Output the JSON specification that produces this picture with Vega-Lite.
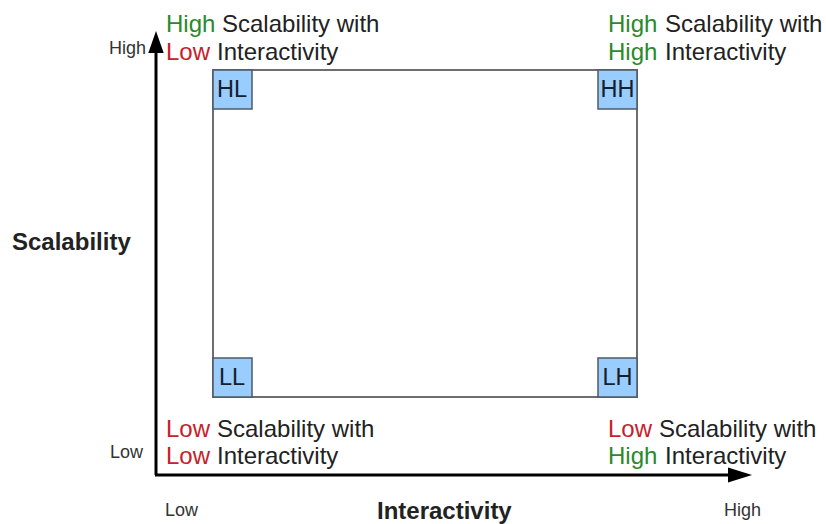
{
  "$schema": "https://vega.github.io/schema/vega-lite/v6.json",
  "width": 826,
  "height": 524,
  "autosize": {"type": "fit", "contains": "padding"},
  "padding": 0,
  "background": "white",
  "config": {"view": {"stroke": null}, "font": "Liberation Sans"},
  "datasets": {
    "frame": [{"x": 213, "x2": 637, "y": 70, "y2": 397}],
    "boxes": [
      {"label": "HL", "x": 213, "x2": 252, "y": 70, "y2": 109, "cx": 232, "cy": 89.5},
      {"label": "HH", "x": 598, "x2": 637, "y": 70, "y2": 109, "cx": 617.5, "cy": 89.5},
      {"label": "LL", "x": 213, "x2": 252, "y": 358, "y2": 397, "cx": 232, "cy": 377.5},
      {"label": "LH", "x": 598, "x2": 637, "y": 358, "y2": 397, "cx": 617.5, "cy": 377.5}
    ],
    "axes": [
      {"axis": "Scalability", "x": 156, "y": 475, "x2": 156, "y2": 48},
      {"axis": "Interactivity", "x": 155, "y": 475, "x2": 732, "y2": 475}
    ],
    "upHead": [{"x": 156, "y": 42}],
    "rightHead": [{"x": 740, "y": 475}],
    "words": [
      {"text": "High", "tone": "High", "x": 166, "y": 32},
      {"text": "Scalability with", "tone": "plain", "x": 222, "y": 32},
      {"text": "Low", "tone": "Low", "x": 166, "y": 60},
      {"text": "Interactivity", "tone": "plain", "x": 217, "y": 60},
      {"text": "High", "tone": "High", "x": 608, "y": 32},
      {"text": "Scalability with", "tone": "plain", "x": 665, "y": 32},
      {"text": "High", "tone": "High", "x": 608, "y": 60},
      {"text": "Interactivity", "tone": "plain", "x": 665, "y": 60},
      {"text": "Low", "tone": "Low", "x": 166, "y": 437},
      {"text": "Scalability with", "tone": "plain", "x": 217, "y": 437},
      {"text": "Low", "tone": "Low", "x": 166, "y": 464},
      {"text": "Interactivity", "tone": "plain", "x": 217, "y": 464},
      {"text": "Low", "tone": "Low", "x": 608, "y": 437},
      {"text": "Scalability with", "tone": "plain", "x": 659, "y": 437},
      {"text": "High", "tone": "High", "x": 608, "y": 464},
      {"text": "Interactivity", "tone": "plain", "x": 665, "y": 464}
    ],
    "endsRight": [
      {"text": "High", "x": 146, "y": 54},
      {"text": "Low", "x": 143, "y": 458}
    ],
    "endsLeft": [
      {"text": "Low", "x": 165, "y": 516},
      {"text": "High", "x": 724, "y": 516}
    ],
    "titles": [
      {"text": "Scalability", "x": 12, "y": 250},
      {"text": "Interactivity", "x": 377, "y": 519}
    ]
  },
  "layer": [
    {
      "data": {"name": "frame"},
      "mark": {"type": "rect", "fill": "white", "stroke": "#6e6e6e", "strokeWidth": 2},
      "encoding": {
        "x": {"field": "x", "type": "quantitative", "scale": {"domain": [0, 826], "nice": false, "zero": false}, "axis": null},
        "x2": {"field": "x2"},
        "y": {"field": "y", "type": "quantitative", "scale": {"domain": [0, 524], "nice": false, "zero": false, "reverse": true}, "axis": null},
        "y2": {"field": "y2"}
      }
    },
    {
      "data": {"name": "boxes"},
      "mark": {"type": "rect", "fill": "#99ccff", "stroke": "#505a64", "strokeWidth": 1.5},
      "encoding": {
        "x": {"field": "x", "type": "quantitative", "scale": {"domain": [0, 826], "nice": false, "zero": false}, "axis": null},
        "x2": {"field": "x2"},
        "y": {"field": "y", "type": "quantitative", "scale": {"domain": [0, 524], "nice": false, "zero": false, "reverse": true}, "axis": null},
        "y2": {"field": "y2"}
      }
    },
    {
      "data": {"name": "boxes"},
      "mark": {"type": "text", "fontSize": 23.5, "color": "#15202b", "align": "center", "baseline": "middle"},
      "encoding": {
        "x": {"field": "cx", "type": "quantitative", "scale": {"domain": [0, 826], "nice": false, "zero": false}, "axis": null},
        "y": {"field": "cy", "type": "quantitative", "scale": {"domain": [0, 524], "nice": false, "zero": false, "reverse": true}, "axis": null},
        "text": {"field": "label"}
      }
    },
    {
      "data": {"name": "axes"},
      "mark": {"type": "rule", "color": "black", "strokeWidth": 3},
      "encoding": {
        "x": {"field": "x", "type": "quantitative", "scale": {"domain": [0, 826], "nice": false, "zero": false}, "axis": null},
        "x2": {"field": "x2"},
        "y": {"field": "y", "type": "quantitative", "scale": {"domain": [0, 524], "nice": false, "zero": false, "reverse": true}, "axis": null},
        "y2": {"field": "y2"}
      }
    },
    {
      "data": {"name": "upHead"},
      "mark": {"type": "point", "shape": "M0,-1L0.7,1L-0.7,1Z", "filled": true, "color": "black", "opacity": 1, "size": 484, "strokeWidth": 0},
      "encoding": {
        "x": {"field": "x", "type": "quantitative", "scale": {"domain": [0, 826], "nice": false, "zero": false}, "axis": null},
        "y": {"field": "y", "type": "quantitative", "scale": {"domain": [0, 524], "nice": false, "zero": false, "reverse": true}, "axis": null}
      }
    },
    {
      "data": {"name": "rightHead"},
      "mark": {"type": "point", "shape": "M1,0L-1,0.62L-1,-0.62Z", "filled": true, "color": "black", "opacity": 1, "size": 576, "strokeWidth": 0},
      "encoding": {
        "x": {"field": "x", "type": "quantitative", "scale": {"domain": [0, 826], "nice": false, "zero": false}, "axis": null},
        "y": {"field": "y", "type": "quantitative", "scale": {"domain": [0, 524], "nice": false, "zero": false, "reverse": true}, "axis": null}
      }
    },
    {
      "data": {"name": "words"},
      "mark": {"type": "text", "fontSize": 24, "align": "left", "baseline": "alphabetic"},
      "encoding": {
        "x": {"field": "x", "type": "quantitative", "scale": {"domain": [0, 826], "nice": false, "zero": false}, "axis": null},
        "y": {"field": "y", "type": "quantitative", "scale": {"domain": [0, 524], "nice": false, "zero": false, "reverse": true}, "axis": null},
        "text": {"field": "text"},
        "color": {"field": "tone", "type": "nominal", "scale": {"domain": ["High", "Low", "plain"], "range": ["#2a8a2a", "#c8202a", "#222222"]}, "legend": null}
      }
    },
    {
      "data": {"name": "endsRight"},
      "mark": {"type": "text", "fontSize": 18, "align": "right", "baseline": "alphabetic", "color": "#333333"},
      "encoding": {
        "x": {"field": "x", "type": "quantitative", "scale": {"domain": [0, 826], "nice": false, "zero": false}, "axis": null},
        "y": {"field": "y", "type": "quantitative", "scale": {"domain": [0, 524], "nice": false, "zero": false, "reverse": true}, "axis": null},
        "text": {"field": "text"}
      }
    },
    {
      "data": {"name": "endsLeft"},
      "mark": {"type": "text", "fontSize": 18, "align": "left", "baseline": "alphabetic", "color": "#333333"},
      "encoding": {
        "x": {"field": "x", "type": "quantitative", "scale": {"domain": [0, 826], "nice": false, "zero": false}, "axis": null},
        "y": {"field": "y", "type": "quantitative", "scale": {"domain": [0, 524], "nice": false, "zero": false, "reverse": true}, "axis": null},
        "text": {"field": "text"}
      }
    },
    {
      "data": {"name": "titles"},
      "mark": {"type": "text", "fontSize": 24, "fontWeight": "bold", "align": "left", "baseline": "alphabetic", "color": "#222222"},
      "encoding": {
        "x": {"field": "x", "type": "quantitative", "scale": {"domain": [0, 826], "nice": false, "zero": false}, "axis": null},
        "y": {"field": "y", "type": "quantitative", "scale": {"domain": [0, 524], "nice": false, "zero": false, "reverse": true}, "axis": null},
        "text": {"field": "text"}
      }
    }
  ]
}
